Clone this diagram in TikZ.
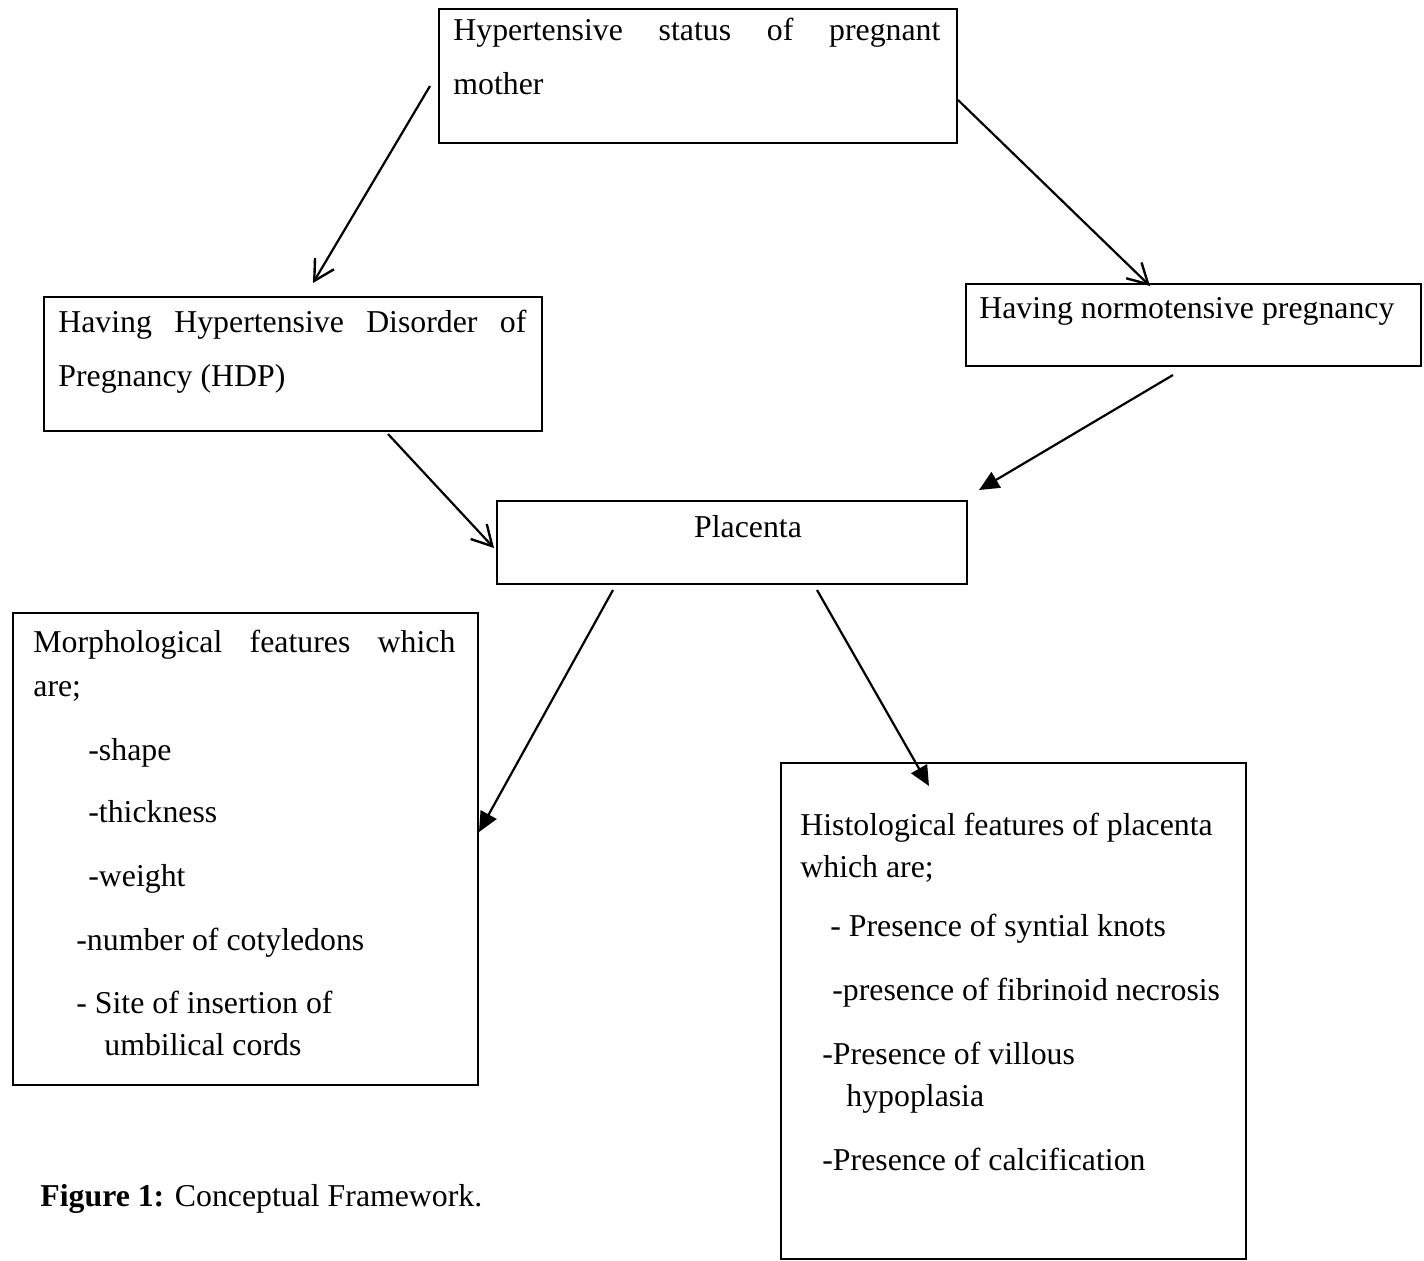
\documentclass[tikz,border=0pt]{standalone}
\usepackage{fontspec}
\setmainfont{Liberation Serif}
\usetikzlibrary{arrows.meta}
\hbadness=10000
\hfuzz=100pt
\begin{document}
\begin{tikzpicture}[x=0.5pt,y=-0.5pt,
  every node/.style={font=\fontsize{15.9pt}{20pt}\selectfont},
  box/.style={draw, line width=1pt, anchor=north west, inner sep=0pt},
  txt/.style={anchor=base west, inner sep=0pt},
  openarrow/.style={-{Straight Barb[length=10pt,width=11pt,line width=1.2pt]}, line width=1.1pt},
  fillarrow/.style={-{Triangle[length=10pt,width=9pt]}, line width=1.1pt}]
\useasboundingbox (0,0) rectangle (1424,1260);
% boxes
\node[box, minimum width=259pt, minimum height=67pt] (top) at (438,8) {};
\node[box, minimum width=249pt, minimum height=67pt] (hdp) at (43,296) {};
\node[box, minimum width=227.5pt, minimum height=41pt] (norm) at (965,283) {};
\node[box, minimum width=235pt, minimum height=41.5pt] (plac) at (496,500) {};
\node[box, minimum width=232.5pt, minimum height=236pt] (morph) at (12,612) {};
\node[box, minimum width=232.5pt, minimum height=248pt] (hist) at (780,762) {};
% texts
\node[txt] (t1) at (453,40) {\makebox[243.5pt][s]{Hypertensive status of pregnant}};
\node[txt] (t2) at (453,94) {mother};
\node[txt] (h1) at (58,332) {\makebox[234pt][s]{Having Hypertensive Disorder of}};
\node[txt] (h2) at (58,386) {Pregnancy (HDP)};
\node[txt] (n1) at (979,318) {Having normotensive pregnancy};
\node[anchor=base, inner sep=0pt] (p1) at (748,537) {Placenta};
\node[txt] (m1) at (33,652) {\makebox[211pt][s]{Morphological features which}};
\node[txt] (m2) at (33,696) {are;};
\node[txt] (m3) at (88,760) {-shape};
\node[txt] (m4) at (88,822) {-thickness};
\node[txt] (m5) at (88,886) {-weight};
\node[txt] (m6) at (76,950) {-number of cotyledons};
\node[txt] (m7) at (76,1013) {- Site of insertion of};
\node[txt] (m8) at (104,1055) {umbilical cords};
\node[txt] (s1) at (800,835) {Histological features of placenta};
\node[txt] (s2) at (800,877) {which are;};
\node[txt] (s3) at (830,936) {- Presence of syntial knots};
\node[txt] (s4) at (832,1000) {-presence of fibrinoid necrosis};
\node[txt] (s5) at (822,1064) {-Presence of villous};
\node[txt] (s6) at (846,1106) {hypoplasia};
\node[txt] (s7) at (822,1170) {-Presence of calcification};
\node[txt] (cap) at (40,1206) {\textbf{Figure 1:} Conceptual Framework.};
% arrows
\draw[openarrow] ([shift={(-8,78)}]top.north west) -- ([shift={(270,-13)}]hdp.north west);
\draw[openarrow] ([shift={(0,92)}]top.north east) -- ([shift={(185,3)}]norm.north west);
\draw[openarrow] ([shift={(345,2)}]hdp.south west) -- ([shift={(-2,48)}]plac.north west);
\draw[fillarrow] ([shift={(208,8)}]norm.south west) -- ([shift={(11,-10)}]plac.north east);
\draw[fillarrow] ([shift={(117,5)}]plac.south west) -- ([shift={(0,220)}]morph.north east);
\draw[fillarrow] ([shift={(321,5)}]plac.south west) -- ([shift={(149,24)}]hist.north west);
\end{tikzpicture}
\end{document}
